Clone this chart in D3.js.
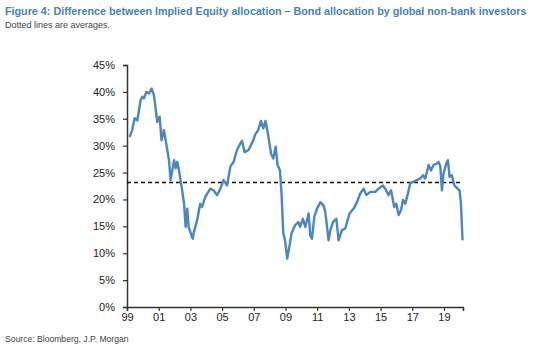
<!DOCTYPE html>
<html>
<head>
<meta charset="utf-8">
<script src="https://cdn.jsdelivr.net/npm/d3@7"></script>
<style>
  body { margin: 0; background: #fff; }
  text { font-family: "Liberation Sans", Arial, sans-serif; }
</style>
</head>
<body>
<div id="chart"></div>
<script>
// Decimal years (roughly monthly)
const dates = [
  1999.16, 1999.33, 1999.48, 1999.65, 1999.86, 1999.97, 2000.07, 2000.22, 2000.39, 2000.55,
  2000.70, 2000.91, 2001.06, 2001.18, 2001.33, 2001.44, 2001.65, 2001.75, 2001.97, 2002.07,
  2002.17, 2002.28, 2002.45, 2002.60, 2002.70, 2002.80, 2002.89, 2003.10, 2003.16, 2003.20,
  2003.42, 2003.62, 2003.73, 2003.94, 2004.26, 2004.46, 2004.68, 2004.89, 2005.09, 2005.31,
  2005.52, 2005.73, 2005.94, 2006.15, 2006.26, 2006.42, 2006.67, 2006.97, 2007.08, 2007.28,
  2007.45, 2007.60, 2007.74, 2007.87, 2008.09, 2008.23, 2008.38, 2008.50, 2008.65, 2008.75,
  2008.86, 2008.97, 2009.11, 2009.28, 2009.38, 2009.60, 2009.81, 2009.92, 2010.10, 2010.25,
  2010.46, 2010.56, 2010.67, 2010.82, 2010.99, 2011.20, 2011.40, 2011.51, 2011.72, 2011.83,
  2012.00, 2012.21, 2012.35, 2012.56, 2012.77, 2013.04, 2013.30, 2013.51, 2013.72, 2013.93,
  2014.10, 2014.35, 2014.67, 2014.87, 2015.15, 2015.30, 2015.50, 2015.66, 2015.86, 2015.99,
  2016.14, 2016.29, 2016.41, 2016.56, 2016.70, 2016.87, 2017.08, 2017.30, 2017.50, 2017.68,
  2017.82, 2018.03, 2018.18, 2018.34, 2018.56, 2018.66, 2018.77, 2018.87, 2018.97, 2019.15,
  2019.25, 2019.35, 2019.50, 2019.65, 2019.86, 2019.98, 2020.07, 2020.17
];

// Equity minus bond allocation, %
const spread = [
  31.6, 32.9, 35.1, 34.7, 38.5, 39.1, 38.8, 40.0, 39.7, 40.6,
  39.4, 34.4, 35.4, 31.0, 32.9, 31.0, 27.3, 23.6, 27.3, 25.8,
  27.0, 25.4, 22.3, 19.2, 14.9, 18.3, 14.9, 13.0, 12.7, 13.7,
  16.1, 19.2, 18.6, 20.5, 22.0, 21.7, 20.8, 22.0, 23.6, 22.6,
  26.1, 27.0, 29.2, 30.4, 30.9, 28.8, 29.2, 31.0, 32.0, 32.9,
  34.6, 33.2, 34.6, 32.6, 28.5, 27.6, 29.8, 26.4, 25.4, 21.1,
  13.7, 12.4, 9.0, 11.8, 13.7, 15.2, 15.8, 14.9, 16.4, 14.9,
  17.4, 13.3, 12.7, 16.8, 18.3, 19.5, 18.9, 17.7, 12.4, 14.3,
  15.8, 16.4, 12.4, 14.3, 14.6, 17.4, 18.3, 19.5, 21.1, 22.0,
  20.8, 21.4, 21.4, 22.0, 22.6, 22.0, 20.8, 21.7, 18.6, 19.2,
  17.1, 18.0, 19.9, 19.2, 20.8, 23.0, 23.3, 23.6, 23.9, 24.5,
  23.9, 26.4, 25.4, 26.4, 26.7, 27.0, 26.1, 21.7, 24.8, 26.7,
  27.3, 24.2, 24.5, 22.6, 22.0, 21.7, 19.2, 12.4
];

const average = 23.15;

const yTicks = [0, 5, 10, 15, 20, 25, 30, 35, 40, 45];
const xTicks = [1999, 2001, 2003, 2005, 2007, 2009, 2011, 2013, 2015, 2017, 2019];
const xTickLabels = ["99", "01", "03", "05", "07", "09", "11", "13", "15", "17", "19"];

const titleText = "Figure 4: Difference between Implied Equity allocation \u2013 Bond allocation by global non-bank investors";
const subtitleText = "Dotted lines are averages.";
const sourceText = "Source: Bloomberg, J.P. Morgan";

const W = 560, H = 351;
const margin = { top: 65, right: 97, bottom: 44, left: 127 };
const width = W - margin.left - margin.right,
    height = H - margin.top - margin.bottom;

const root = d3.select("#chart").append("svg")
    .attr("width", W)
    .attr("height", H);

// Titles
root.append("text").attr("x", 5).attr("y", 15)
    .text(titleText)
    .style("font-size", "10.75px").style("font-weight", "bold").attr("fill", "#4580c2");
root.append("text").attr("x", 5).attr("y", 28)
    .text(subtitleText)
    .style("font-size", "9px").attr("fill", "#444");
root.append("text").attr("x", 5).attr("y", 342)
    .text(sourceText)
    .style("font-size", "8.6px").attr("fill", "#444");

const svg = root.append("g")
    .attr("transform", `translate(${margin.left},${margin.top})`);

const x = d3.scaleLinear().domain([1999, 2020.2]).range([0, width]);
const y = d3.scaleLinear().domain([0, 45]).range([height, 0]);

// Y axis
const yAxis = svg.append("g")
    .call(d3.axisLeft(y).tickValues(yTicks).tickSize(4).tickPadding(8).tickFormat(d => d + "%"));
yAxis.selectAll("text").style("font-size", "11px").attr("fill", "#222")
    .style("font-family", "'Liberation Sans', Arial, sans-serif");

// X axis
const xAxis = svg.append("g")
    .attr("transform", `translate(0,${height})`)
    .call(d3.axisBottom(x).tickValues(xTicks).tickSize(4).tickPadding(2)
        .tickFormat((d, i) => xTickLabels[i]));
xAxis.selectAll("text").style("font-size", "11px").attr("fill", "#222")
    .style("font-family", "'Liberation Sans', Arial, sans-serif");

svg.selectAll(".domain").attr("stroke", "#333").attr("stroke-width", 1.5);
svg.selectAll(".tick line").attr("stroke", "#333").attr("stroke-width", 1.2);

// Average line
svg.append("line")
    .attr("x1", 0).attr("x2", x(2020.05))
    .attr("y1", y(average)).attr("y2", y(average))
    .attr("stroke", "#111").attr("stroke-width", 1.3)
    .attr("stroke-dasharray", "4,3");

// Series
const series = dates.map((d, i) => ({ date: d, value: spread[i] }));
svg.append("path")
    .datum(series)
    .attr("fill", "none")
    .attr("stroke", "#4a86c0")
    .attr("stroke-width", 2.4)
    .attr("stroke-linejoin", "round")
    .attr("d", d3.line().x(d => x(d.date)).y(d => y(d.value)));
</script>
</body>
</html>
